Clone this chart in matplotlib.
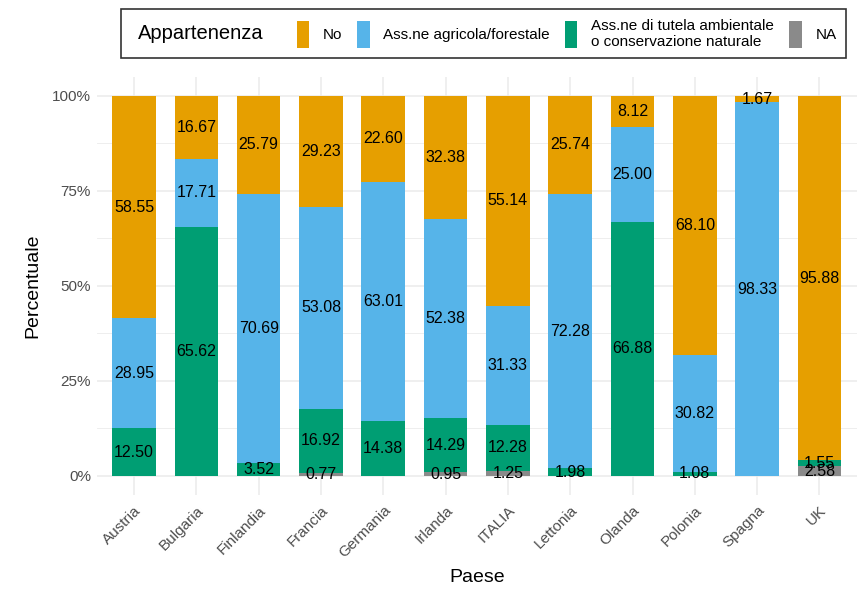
import numpy as np
import matplotlib.pyplot as plt
from matplotlib.patches import Rectangle
from matplotlib.ticker import PercentFormatter, MultipleLocator, NullFormatter

plt.rcParams['font.family'] = ['Liberation Sans', 'DejaVu Sans']

paesi = ['Austria', 'Bulgaria', 'Finlandia', 'Francia', 'Germania', 'Irlanda',
         'ITALIA', 'Lettonia', 'Olanda', 'Polonia', 'Spagna', 'UK']

# percentuali per categoria (stack dal basso: NA, tutela, agricola, No)
na_vals     = [0.00, 0.00, 0.00, 0.77, 0.00, 0.95, 1.25, 0.00, 0.00, 0.00, 0.00, 2.58]
tutela      = [12.50, 65.62, 3.52, 16.92, 14.38, 14.29, 12.28, 1.98, 66.88, 1.08, 0.00, 1.55]
agricola    = [28.95, 17.71, 70.69, 53.08, 63.01, 52.38, 31.33, 72.28, 25.00, 30.82, 98.33, 0.00]
no_vals     = [58.55, 16.67, 25.79, 29.23, 22.60, 32.38, 55.14, 25.74, 8.12, 68.10, 1.67, 95.88]

serie = [
    ('NA', na_vals, '#8a8a8a'),
    ('Ass.ne di tutela ambientale\no conservazione naturale', tutela, '#009e73'),
    ('Ass.ne agricola/forestale', agricola, '#56b4e9'),
    ('No', no_vals, '#e69f00'),
]

fig = plt.figure(figsize=(8.59, 5.89), dpi=100)
ax = fig.add_axes([0.1125, 0.1596, 0.885, 0.7097])

x = np.arange(1, len(paesi) + 1)
bottom = np.zeros(len(paesi))
handles = {}
for nome, vals, col in serie:
    v = np.array(vals) / 100
    b = ax.bar(x, v, 0.7, bottom=bottom, color=col, zorder=2)
    handles[nome] = b
    for xi, bi, vi in zip(x, bottom, v):
        if vi > 0:
            ax.text(xi, bi + vi / 2, f'{vi*100:.2f}', ha='center', va='center',
                    fontsize=11.5, color='black', zorder=3)
    bottom += v

ax.set_xlim(0.4, 12.6)
ax.set_ylim(-0.05, 1.05)
ax.yaxis.set_major_locator(MultipleLocator(0.25))
ax.yaxis.set_minor_locator(MultipleLocator(0.125))
ax.yaxis.set_major_formatter(PercentFormatter(1.0, decimals=0))
ax.yaxis.set_minor_formatter(NullFormatter())
ax.set_xticks(x)
ax.set_xticklabels(paesi, rotation=45, ha='right', rotation_mode='anchor')
ax.tick_params(axis='both', which='both', length=0, labelsize=11, colors='#4d4d4d', pad=4)
ax.tick_params(axis='x', pad=6)
ax.grid(True, which='major', color='#ebebeb', linewidth=1.1, zorder=0)
ax.grid(True, which='minor', axis='y', color='#ebebeb', linewidth=0.6, zorder=0)
ax.set_axisbelow(True)
for s in ax.spines.values():
    s.set_visible(False)
ax.set_ylabel('Percentuale', fontsize=14, labelpad=8)
ax.set_xlabel('Paese', fontsize=14, labelpad=6)

# legenda in alto con titolo a sinistra
vuoto = Rectangle((0, 0), 1, 1, fill=False, edgecolor='none', visible=False)
ordine = ['No', 'Ass.ne agricola/forestale',
          'Ass.ne di tutela ambientale\no conservazione naturale', 'NA']
leg_h = [vuoto] + [handles[k] for k in ordine]
leg_l = ['Appartenenza'] + ordine
leg = fig.legend(leg_h, leg_l, loc='upper center', bbox_to_anchor=(0.5625, 0.997),
                 ncol=5, frameon=True, fancybox=False, fontsize=11,
                 handlelength=0.8, handleheight=2.3, handletextpad=0.9,
                 columnspacing=1.0, borderpad=0.6)
leg.get_frame().set_edgecolor('black')
leg.get_frame().set_linewidth(1.2)
leg.get_texts()[0].set_fontsize(14.5)
leg.get_texts()[0].set_x(-18)

fig.savefig('out.png', dpi=100)
